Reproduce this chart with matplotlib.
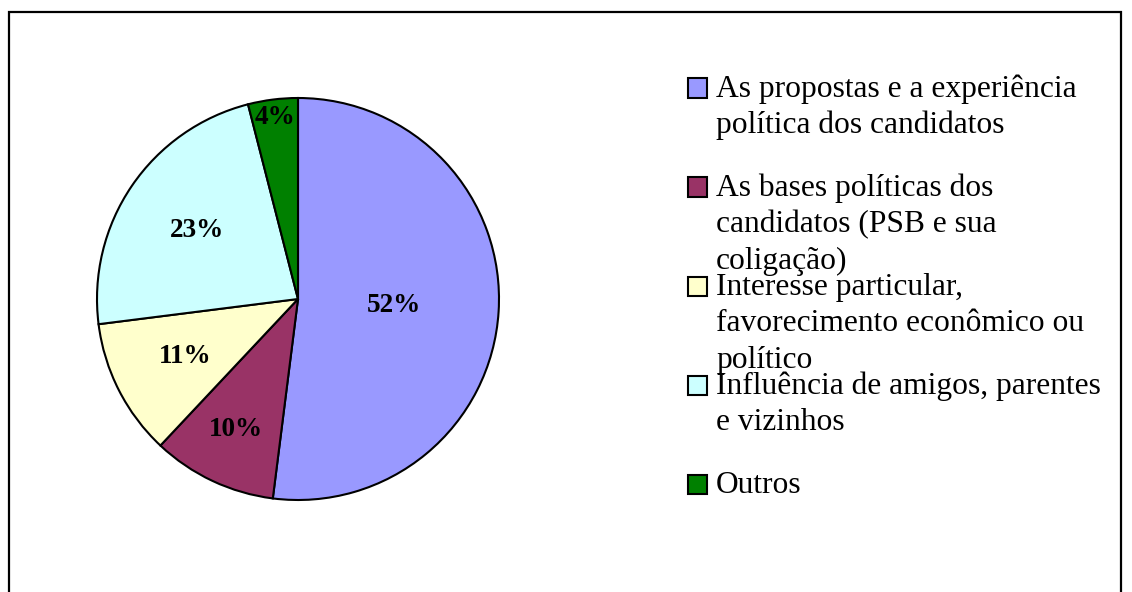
import numpy as np
import matplotlib
matplotlib.use('Agg')
import matplotlib.pyplot as plt
from matplotlib.patches import Rectangle

plt.rcParams['font.family'] = ['Liberation Serif', 'DejaVu Serif']

# dados do gráfico
rotulos = ['As propostas e a experiência\npolítica dos candidatos',
           'As bases políticas dos\ncandidatos (PSB e sua\ncoligação)',
           'Interesse particular,\nfavorecimento econômico ou\npolítico',
           'Influência de amigos, parentes\ne vizinhos',
           'Outros']
valores = [52, 10, 11, 23, 4]
cores = ['#9999FF', '#993366', '#FFFFCC', '#CCFFFF', '#008000']

# distância radial de cada rótulo de porcentagem
dist_rotulo = [0.48, 0.72, 0.63, 0.61, 0.91]

W, H = 1132, 592
fig = plt.figure(figsize=(W / 100, H / 100), dpi=100)

# moldura externa
fig.patches.append(Rectangle((9 / W, -0.1), (1121 - 9) / W, (H - 12) / H + 0.1,
                             transform=fig.transFigure, fill=False,
                             edgecolor='black', linewidth=1.6, clip_on=False))

ax = fig.add_axes([97 / W, (H - 500) / H, 402 / W, 402 / H])
wedges, _ = ax.pie(valores, colors=cores, startangle=90, counterclock=False,
                   wedgeprops=dict(edgecolor='black', linewidth=1.5))
ax.set_xlim(-1, 1)
ax.set_ylim(-1, 1)

for w, v, d in zip(wedges, valores, dist_rotulo):
    ang = np.deg2rad((w.theta1 + w.theta2) / 2)
    ax.text(d * np.cos(ang), d * np.sin(ang), f'{v}%', ha='center', va='center',
            fontsize=19.6, fontweight='bold')

# legenda desenhada à mão
base0, passo, passo_linha = 96.7, 99.0, 36.5
for i, (rot, cor) in enumerate(zip(rotulos, cores)):
    base = base0 + i * passo
    cy = base - 8.7
    fig.patches.append(Rectangle((688 / W, 1 - (cy + 9.5) / H), 19 / W, 19 / H,
                                 transform=fig.transFigure, facecolor=cor,
                                 edgecolor='black', linewidth=1.5))
    for k, linha in enumerate(rot.split('\n')):
        fig.text(716 / W, 1 - (base + k * passo_linha) / H, linha,
                 ha='left', va='baseline', fontsize=22.7)

fig.savefig('out.png', dpi=100)
